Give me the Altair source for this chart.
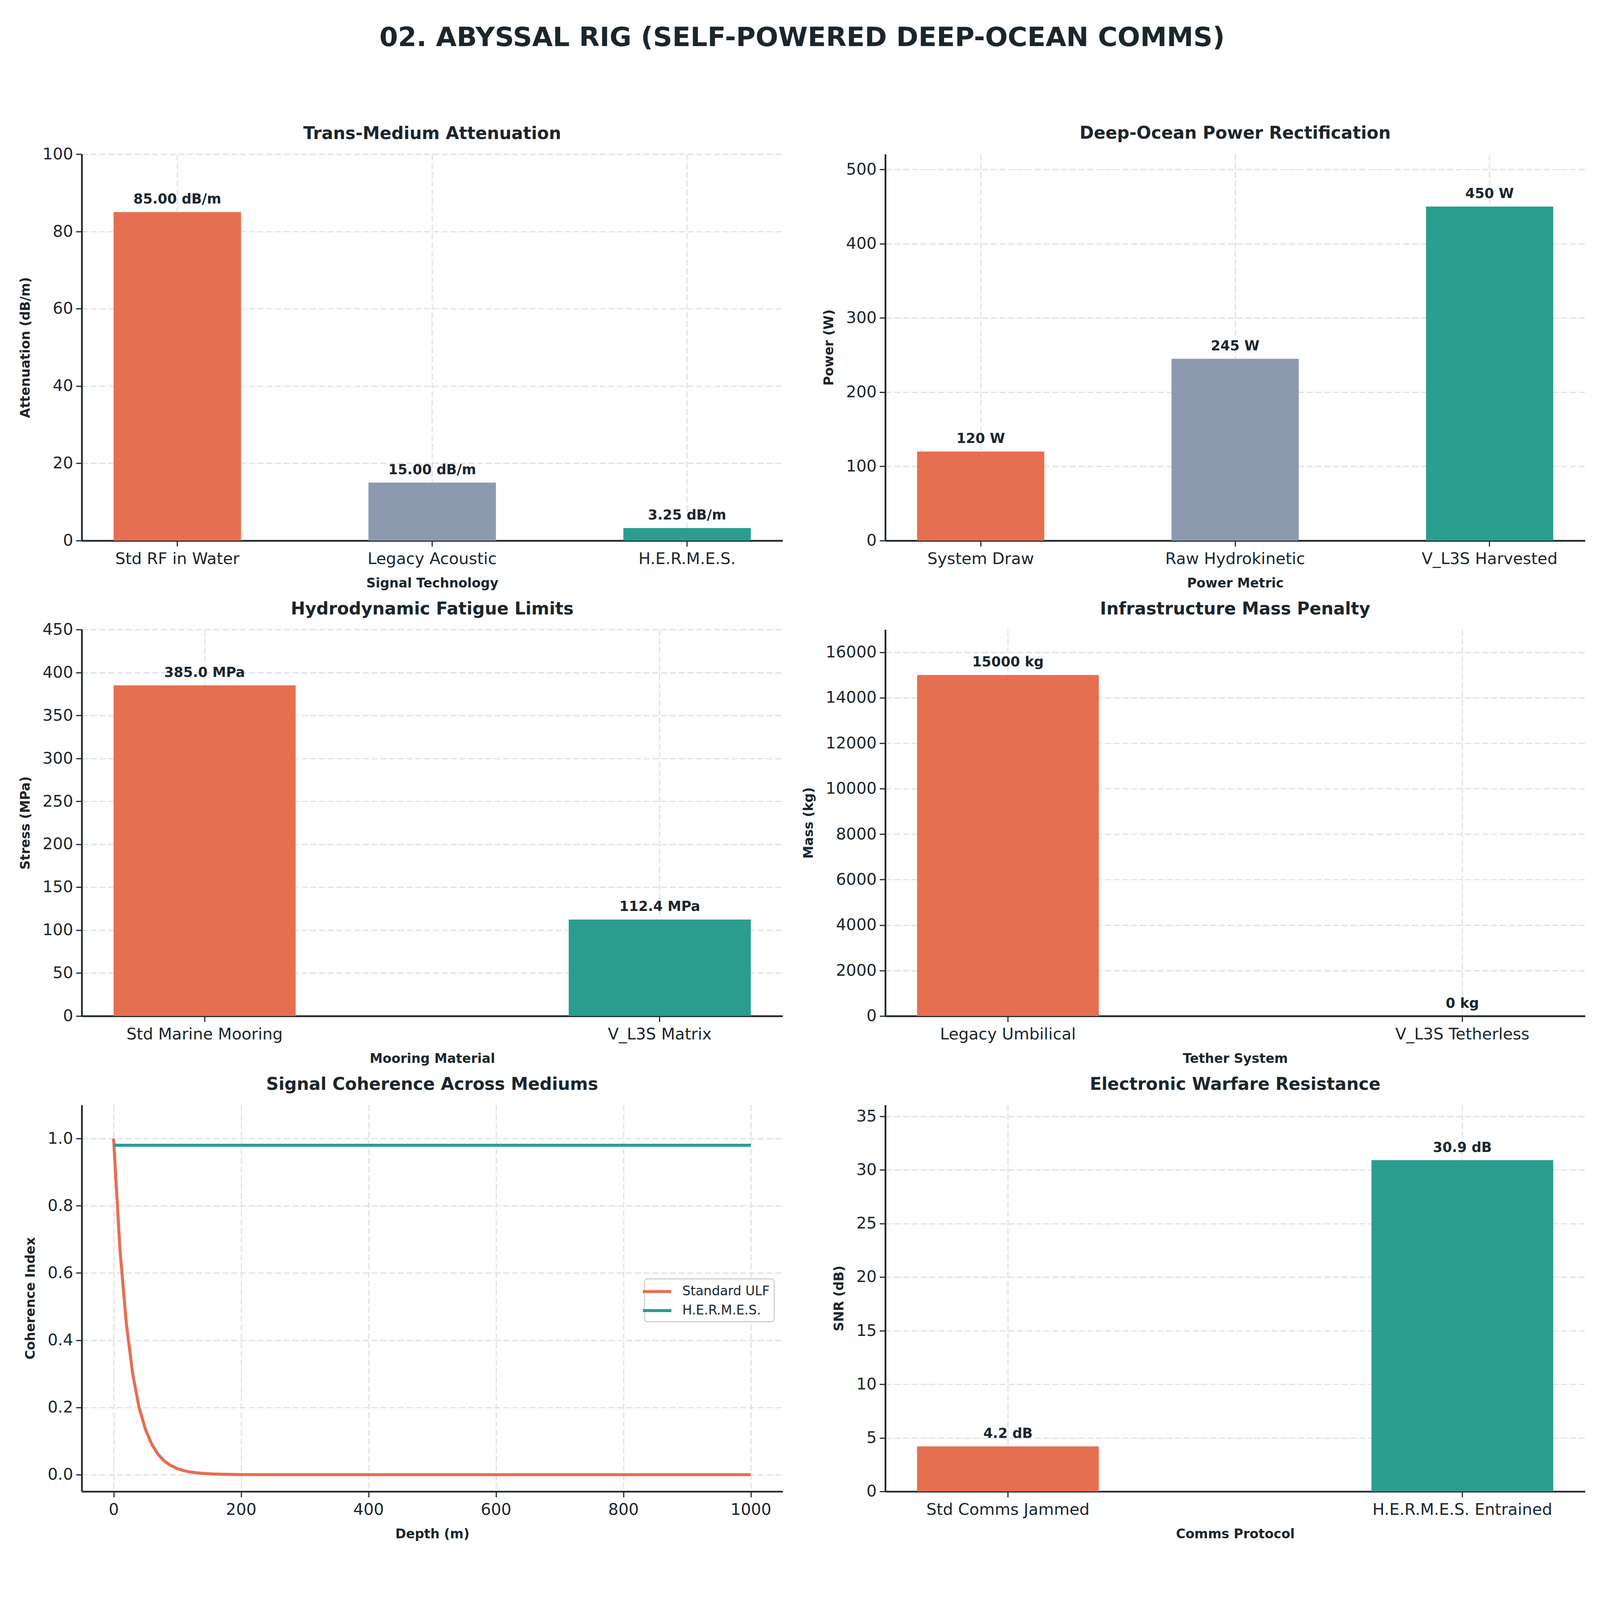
import altair as alt
import pandas as pd

DARK = "#1b262c"
GRID = "#dfe0e8"
ORANGE = "#E76F51"
GRAY = "#8D99AE"
TEAL = "#2A9D8F"
FONT = "DejaVu Sans"

SUPTITLE = "02. ABYSSAL RIG (SELF-POWERED DEEP-OCEAN COMMS)"

# Panel 1
p1_title = "Trans-Medium Attenuation"
p1_cats = ["Std RF in Water", "Legacy Acoustic", "H.E.R.M.E.S."]
p1_vals = [85.0, 15.0, 3.25]
p1_labels = ["85.00 dB/m", "15.00 dB/m", "3.25 dB/m"]
p1_ytitle = "Attenuation (dB/m)"
p1_xtitle = "Signal Technology"
p1_ydom = [0, 100]
p1_yticks = [0, 20, 40, 60, 80, 100]

# Panel 2
p2_title = "Deep-Ocean Power Rectification"
p2_cats = ["System Draw", "Raw Hydrokinetic", "V_L3S Harvested"]
p2_vals = [120, 245, 450]
p2_labels = ["120 W", "245 W", "450 W"]
p2_ytitle = "Power (W)"
p2_xtitle = "Power Metric"
p2_ydom = [0, 520.7]
p2_yticks = [0, 100, 200, 300, 400, 500]

# Panel 3
p3_title = "Hydrodynamic Fatigue Limits"
p3_cats = ["Std Marine Mooring", "V_L3S Matrix"]
p3_vals = [385.0, 112.4]
p3_labels = ["385.0 MPa", "112.4 MPa"]
p3_ytitle = "Stress (MPa)"
p3_xtitle = "Mooring Material"
p3_ydom = [0, 450]
p3_yticks = [0, 50, 100, 150, 200, 250, 300, 350, 400, 450]

# Panel 4
p4_title = "Infrastructure Mass Penalty"
p4_cats = ["Legacy Umbilical", "V_L3S Tetherless"]
p4_vals = [15000, 0]
p4_labels = ["15000 kg", "0 kg"]
p4_ytitle = "Mass (kg)"
p4_xtitle = "Tether System"
p4_ydom = [0, 17000]
p4_yticks = [0, 2000, 4000, 6000, 8000, 10000, 12000, 14000, 16000]

# Panel 5 (line)
p5_title = "Signal Coherence Across Mediums"
p5_ytitle = "Coherence Index"
p5_xtitle = "Depth (m)"
ulf_depth = [0, 10, 20, 30, 40, 50, 60, 70, 80, 90, 100, 110, 120, 130, 140,
             150, 160, 180, 200, 250, 300, 400, 600, 800, 1000]
ulf_coh = [1.0, 0.67, 0.45, 0.30, 0.20, 0.135, 0.09, 0.06, 0.04, 0.027, 0.018,
           0.012, 0.008, 0.0055, 0.0037, 0.0025, 0.0017, 0.0007, 0.0003, 0.0,
           0.0, 0.0, 0.0, 0.0, 0.0]
hermes_depth = [0, 1000]
hermes_coh = [0.98, 0.98]
p5_series = ["Standard ULF", "H.E.R.M.E.S."]
p5_xdom = [-50, 1050]
p5_ydom = [-0.05, 1.1]
p5_xticks = [0, 200, 400, 600, 800, 1000]
p5_yticks = [0.0, 0.2, 0.4, 0.6, 0.8, 1.0]

# Panel 6
p6_title = "Electronic Warfare Resistance"
p6_cats = ["Std Comms Jammed", "H.E.R.M.E.S. Entrained"]
p6_vals = [4.2, 30.9]
p6_labels = ["4.2 dB", "30.9 dB"]
p6_ytitle = "SNR (dB)"
p6_xtitle = "Comms Protocol"
p6_ydom = [0, 36.05]
p6_yticks = [0, 5, 10, 15, 20, 25, 30, 35]

W_L, W_R, H = 1837, 1834, 1013


def sub_title(text, offset):
    return alt.TitleParams(text, font=FONT, fontSize=45, fontWeight="bold", color=DARK,
                           offset=offset, anchor="middle")


def bar_panel(title, cats, vals, labels, colors, ytitle, xtitle, ydom, yticks, width,
              toff, yfmt="d"):
    df = pd.DataFrame({"cat": cats, "val": vals, "label": labels})
    n = len(cats)
    if n == 3:
        pin, pout = 0.5, 0.125
    else:
        pin, pout = 0.6, 0.07
    base = alt.Chart(df).encode(
        x=alt.X("cat:N", sort=cats,
                scale=alt.Scale(paddingInner=pin, paddingOuter=pout),
                axis=alt.Axis(title=xtitle, labelAngle=0, bandPosition=0.5)),
        y=alt.Y("val:Q", scale=alt.Scale(domain=ydom, nice=False, zero=True),
                axis=alt.Axis(title=ytitle, values=yticks, format=yfmt)),
    )
    bars = base.mark_bar().encode(
        color=alt.Color("cat:N", scale=alt.Scale(domain=cats, range=colors), legend=None)
    )
    text = base.mark_text(dy=-22, baseline="alphabetic", align="center", fontSize=36,
                          fontWeight="bold", font=FONT, color=DARK).encode(text="label:N")
    return (bars + text).properties(width=width, height=H, title=sub_title(title, toff))


p1 = bar_panel(p1_title, p1_cats, p1_vals, p1_labels, [ORANGE, GRAY, TEAL],
               p1_ytitle, p1_xtitle, p1_ydom, p1_yticks, W_L, 9)
p2 = bar_panel(p2_title, p2_cats, p2_vals, p2_labels, [ORANGE, GRAY, TEAL],
               p2_ytitle, p2_xtitle, p2_ydom, p2_yticks, W_R, 31)
p3 = bar_panel(p3_title, p3_cats, p3_vals, p3_labels, [ORANGE, TEAL],
               p3_ytitle, p3_xtitle, p3_ydom, p3_yticks, W_L, 9)
p4 = bar_panel(p4_title, p4_cats, p4_vals, p4_labels, [ORANGE, TEAL],
               p4_ytitle, p4_xtitle, p4_ydom, p4_yticks, W_R, 31)
p6 = bar_panel(p6_title, p6_cats, p6_vals, p6_labels, [ORANGE, TEAL],
               p6_ytitle, p6_xtitle, p6_ydom, p6_yticks, W_R, 31)

line_df = pd.concat([
    pd.DataFrame({"depth": ulf_depth, "coh": ulf_coh, "series": p5_series[0]}),
    pd.DataFrame({"depth": hermes_depth, "coh": hermes_coh, "series": p5_series[1]}),
])

p5 = alt.Chart(line_df).mark_line(strokeWidth=8, clip=True).encode(
    x=alt.X("depth:Q", scale=alt.Scale(domain=p5_xdom, nice=False, zero=False),
            axis=alt.Axis(title=p5_xtitle, values=p5_xticks, format="d")),
    y=alt.Y("coh:Q", scale=alt.Scale(domain=p5_ydom, nice=False, zero=False),
            axis=alt.Axis(title=p5_ytitle, values=p5_yticks, format=".1f")),
    color=alt.Color("series:N", scale=alt.Scale(domain=p5_series, range=[ORANGE, TEAL]),
                    legend=alt.Legend(orient="none", legendX=1475, legendY=456, title=None,
                                      symbolType="M-2.2,0H2.2", symbolStrokeWidth=8,
                                      symbolSize=1156, labelLimit=0,
                                      labelFontSize=34, labelFont=FONT, labelColor=DARK,
                                      labelOffset=45, fillColor="white", strokeColor="#d0d0d0",
                                      cornerRadius=8, padding=12, rowPadding=12)),
).properties(width=W_L, height=H, title=sub_title(p5_title, 31))

chart = alt.concat(
    p1, p2, p3, p4, p5, p6, columns=2, bounds="flush",
    spacing={"row": 233, "column": 269},
    title=alt.TitleParams(SUPTITLE, fontSize=70, font=FONT, fontWeight="bold", color=DARK,
                          anchor="middle", offset=192),
    padding={"left": 41, "top": 8, "right": 30, "bottom": 30},
    background="white",
).resolve_scale(color="independent").configure_view(stroke="transparent").configure_axis(
    labelFont=FONT, labelFontSize=42, labelColor=DARK, labelLimit=0,
    titleFont=FONT, titleFontSize=34, titleFontWeight="bold", titleColor=DARK,
    domainColor=DARK, domainWidth=4.5, tickColor=DARK, tickWidth=3, tickSize=15,
    grid=True, gridColor=GRID, gridDash=[16, 7], gridWidth=3,
).configure_axisY(titlePadding=27, labelPadding=8).configure_axisX(
    titlePadding=26, labelPadding=13
).configure_legend(strokeWidth=3)

chart.save("out.html", embed_options={"renderer": "svg", "actions": False})
